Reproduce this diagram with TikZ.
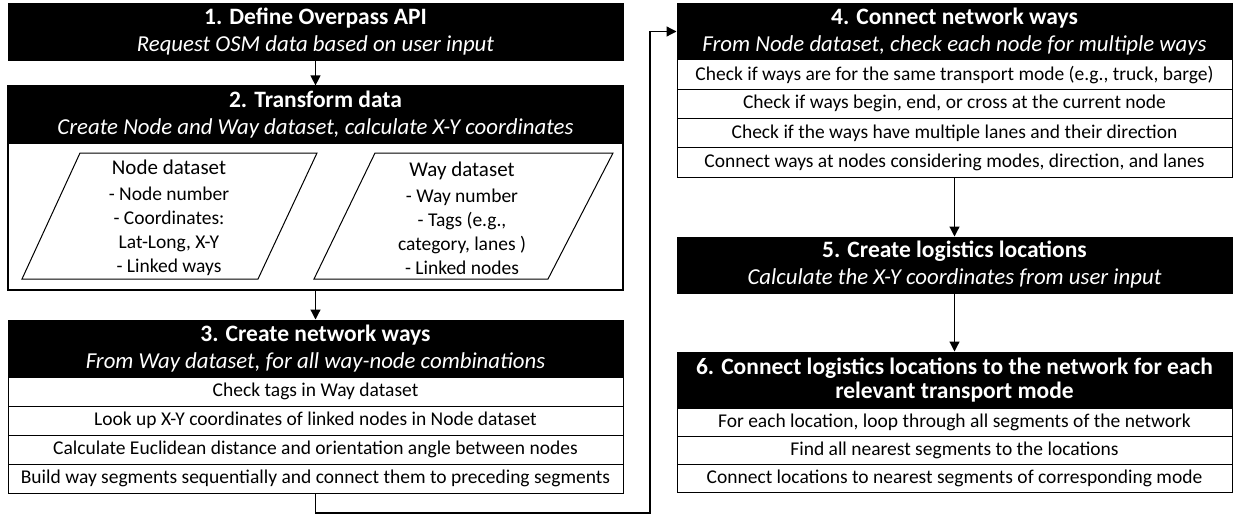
\documentclass[tikz,border=0pt]{standalone}
\usepackage{fontspec}
\setmainfont{Carlito}
\usetikzlibrary{arrows.meta}
\newcommand{\hdtitle}[1]{{\bfseries\fontsize{23.5}{27}\selectfont #1}}
\newcommand{\hdsubt}[1]{{\itshape\fontsize{22.8}{27}\selectfont #1}}
\begin{document}
\begin{tikzpicture}[x=1pt,y=-1pt,
  hdr/.style={fill=black,draw=black,line width=1pt,text=white,align=center,inner sep=0pt,font=\fontsize{22.8}{27}\selectfont},
  rowL/.style={draw=black,fill=white,line width=1pt,inner sep=0pt,minimum width=615pt,font=\fontsize{19.5}{22}\selectfont},
  rowR/.style={draw=black,fill=white,line width=1pt,inner sep=0pt,minimum width=555pt,font=\fontsize{19.5}{22}\selectfont},
  outerbox/.style={draw=black,line width=1.2pt,inner sep=0pt},
  dsbox/.style={draw=black,line width=1pt},
  dstext/.style={align=center,inner sep=0pt,font=\fontsize{19.5}{24}\selectfont},
  arr/.style={line width=1.2pt,-{Triangle[width=10pt,length=10pt]}}
]
\useasboundingbox (0,0) rectangle (1233,514);

% Box 1
\node[hdr,minimum width=615pt,minimum height=57pt] (b1) at (315.5,31.5)
  {\hdtitle{1. Define Overpass API}\\\hdsubt{Request OSM data based on user input}};

% Box 2
\node[outerbox,minimum width=615pt,minimum height=204pt] (b2) at (315.5,188) {};
\node[hdr,minimum width=615pt,minimum height=57pt] (b2h) at (315.5,114.5)
  {\hdtitle{2. Transform data}\\\hdsubt{Create Node and Way dataset, calculate X-Y coordinates}};
\draw[dsbox] (80,153) -- (317,153) -- (258,279) -- (22,279) -- cycle;
\draw[dsbox] (375,153) -- (613,153) -- (548,279) -- (314,279) -- cycle;
\node[dstext] (nds) at (169,218)
  {{\fontsize{21}{24}\selectfont Node dataset}\\[2pt]- Node number\\- Coordinates:\\Lat-Long, X-Y\\- Linked ways};
\node[dstext] (wds) at (462,218)
  {{\fontsize{21}{24}\selectfont Way dataset}\\[2pt]- Way number\\- Tags (e.g.,\\category, lanes )\\- Linked nodes};

% Box 3
\node[hdr,minimum width=615pt,minimum height=57pt] (b3h) at (315.5,348.5)
  {\hdtitle{3. Create network ways}\\\hdsubt{From Way dataset, for all way-node combinations}};
\node[rowL,minimum height=29pt] (b3r1) at (315.5,391.5) {Check tags in Way dataset};
\node[rowL,minimum height=29pt] (b3r2) at (315.5,420.5) {Look up X-Y coordinates of linked nodes in Node dataset};
\node[rowL,minimum height=29pt] (b3r3) at (315.5,449.5) {Calculate Euclidean distance and orientation angle between nodes};
\node[rowL,minimum height=29pt] (b3r4) at (315.5,478.5) {Build way segments sequentially and connect them to preceding segments};

% Box 4
\node[hdr,minimum width=555pt,minimum height=57pt] (b4h) at (954.5,31.5)
  {\hdtitle{4. Connect network ways}\\\hdsubt{From Node dataset, check each node for multiple ways}};
\node[rowR,minimum height=29.25pt] (b4r1) at (954.5,74.6) {Check if ways are for the same transport mode (e.g., truck, barge)};
\node[rowR,minimum height=29.25pt] (b4r2) at (954.5,103.9) {Check if ways begin, end, or cross at the current node};
\node[rowR,minimum height=29.25pt] (b4r3) at (954.5,133.1) {Check if the ways have multiple lanes and their direction};
\node[rowR,minimum height=29.25pt] (b4r4) at (954.5,162.4) {Connect ways at nodes considering modes, direction, and lanes};

% Box 5
\node[hdr,minimum width=555pt,minimum height=56pt] (b5) at (954.5,265)
  {\hdtitle{5. Create logistics locations}\\\hdsubt{Calculate the X-Y coordinates from user input}};

% Box 6
\node[hdr,minimum width=555pt,minimum height=56pt,font=\fontsize{23.5}{24}\selectfont\bfseries] (b6h) at (954.5,380)
  {6. Connect logistics locations to the network for each\\relevant transport mode};
\node[rowR,minimum height=28.33pt] (b6r1) at (954.5,422.2) {For each location, loop through all segments of the network};
\node[rowR,minimum height=28.33pt] (b6r2) at (954.5,450.5) {Find all nearest segments to the locations};
\node[rowR,minimum height=28.33pt] (b6r3) at (954.5,478.8) {Connect locations to nearest segments of corresponding mode};

% Connectors
\coordinate (c1) at (650,513);
\draw[arr] (b1.south) -- (b2.north);
\draw[arr] (b2.south) -- (b3h.north);
\draw[arr] (b3r4.south) |- (c1) |- (b4h.west);
\draw[arr] (b4r4.south) -- (b5.north);
\draw[arr] (b5.south) -- (b6h.north);
\end{tikzpicture}
\end{document}
